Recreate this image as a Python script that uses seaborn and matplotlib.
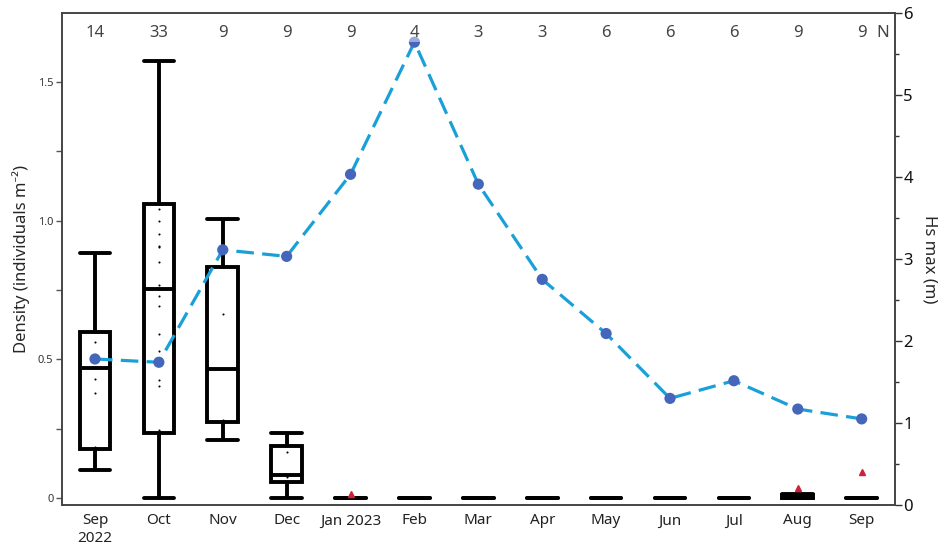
import numpy as np
import pandas as pd
import matplotlib
matplotlib.use('Agg')
import matplotlib.pyplot as plt
import matplotlib.transforms as mtransforms
from matplotlib.ticker import FixedLocator, MultipleLocator, FuncFormatter
import seaborn as sns

# Months sampled (Sep 2022 - Sep 2023)
months = ['Sep\n2022', 'Oct', 'Nov', 'Dec', 'Jan 2023', 'Feb', 'Mar',
          'Apr', 'May', 'Jun', 'Jul', 'Aug', 'Sep']
n_counts = [14, 33, 9, 9, 9, 4, 3, 3, 6, 6, 6, 9, 9]

dens_sep22 = [0.10, 0.12, 0.15, 0.175, 0.183, 0.378, 0.428, 0.51, 0.561,
              0.60, 0.60, 0.70, 0.80, 0.885]
dens_oct = [0, 0, 0, 0.02, 0.05, 0.10, 0.15, 0.20, 0.235, 0.245, 0.403,
            0.424, 0.530, 0.592, 0.693, 0.728, 0.755, 0.769, 0.85, 0.904,
            0.91, 0.952, 1.0, 1.042, 1.06, 1.10, 1.15, 1.22, 1.30, 1.38,
            1.45, 1.52, 1.575]
dens_nov = [0.21, 0.265, 0.274, 0.28, 0.464, 0.664, 0.834, 0.895, 1.005]
dens_dec = [0, 0.03, 0.059, 0.077, 0.083, 0.167, 0.188, 0.21, 0.233]
dens_jan = [0, 0, 0, 0, 0, 0, 0, 0, 0.013]
dens_feb = [0, 0, 0, 0]
dens_mar = [0, 0, 0]
dens_apr = [0, 0, 0]
dens_may = [0, 0, 0, 0, 0, 0]
dens_jun = [0, 0, 0, 0, 0, 0]
dens_jul = [0, 0, 0, 0, 0, 0]
dens_aug = [0, 0, 0, 0, 0, 0, 0.01, 0.015, 0.036]
dens_sep23 = [0, 0, 0, 0, 0, 0, 0, 0, 0.092]

# Maximum significant wave height per month (m)
hs_max = [1.78, 1.74, 3.11, 3.03, 4.03, 5.64, 3.91, 2.75, 2.09, 1.30,
          1.515, 1.17, 1.05]

all_dens = [dens_sep22, dens_oct, dens_nov, dens_dec, dens_jan, dens_feb,
            dens_mar, dens_apr, dens_may, dens_jun, dens_jul, dens_aug,
            dens_sep23]
df = pd.DataFrame({
    'month': np.repeat(months, [len(d) for d in all_dens]),
    'density': np.concatenate(all_dens),
})

sns.set_theme(style='white')
plt.rcParams['font.family'] = ['Noto Sans', 'DejaVu Sans']

fig, ax = plt.subplots(figsize=(9.5, 5.49), dpi=100)
fig.subplots_adjust(left=0.065, right=0.942, top=0.977, bottom=0.080)

box_w = 0.48
red = '#d3203a'
sns.boxplot(data=df, x='month', y='density', order=months, width=box_w,
            color='white', linecolor='black', linewidth=2.8, saturation=1,
            flierprops=dict(marker='^', markerfacecolor=red,
                            markeredgecolor=red, markersize=4, zorder=7),
            ax=ax)

# caps as wide as the boxes
for c in ax.containers:
    if hasattr(c, 'caps'):
        for cap in c.caps:
            xd = cap.get_xdata()
            mid = np.mean(xd)
            cap.set_xdata([mid - box_w / 2, mid + box_w / 2])

sns.stripplot(data=df, x='month', y='density', order=months, jitter=False,
              size=1.5, color='black', linewidth=0, ax=ax, zorder=5)

ax.set_xlim(-0.52, 12.52)
ax.set_ylim(-0.026, 1.751)
ax.set_xlabel('')
ax.set_ylabel('Density (individuals m⁻²)', fontsize=12, labelpad=6)
ax.yaxis.set_major_locator(FixedLocator(np.arange(0, 1.51, 0.25)))


def dens_fmt(v, pos):
    if abs(v) < 1e-9:
        return '0'
    if abs(v * 2 - round(v * 2)) < 1e-6:
        return f'{v:.1f}'
    return ''


ax.yaxis.set_major_formatter(FuncFormatter(dens_fmt))
ax.tick_params(axis='y', direction='out', length=4, width=1, color='#555',
               labelsize=8, labelcolor='#333', pad=2, left=True)
ax.tick_params(axis='x', length=0, labelsize=11, labelcolor='#222', pad=6)

# Hs max on the secondary axis
ax2 = ax.twinx()
pos = np.arange(len(months))
sns.lineplot(x=pos, y=hs_max, ax=ax2, color='#1aa0d9', linewidth=2.3,
             linestyle=(0, (5.5, 2.6)), zorder=3)
sns.scatterplot(x=pos, y=hs_max, ax=ax2, color='#4466bb', s=65,
                edgecolor='none', zorder=4)
ax2.set_ylim(0, 6)
ax2.yaxis.set_major_locator(MultipleLocator(1))
ax2.yaxis.set_minor_locator(MultipleLocator(0.5))
ax2.tick_params(axis='y', which='major', direction='out', length=5, width=1,
                color='#333', labelsize=12, labelcolor='#111', pad=1, right=True)
ax2.tick_params(axis='y', which='minor', direction='out', length=3, width=1,
                color='#333', right=True)
ax2.set_ylabel('Hs max (m)', fontsize=12, rotation=270, labelpad=18)
ax2.set_xlim(-0.52, 12.52)

# sample sizes along the top
trans = mtransforms.blended_transform_factory(ax2.transData, ax2.transAxes)
for i, n in enumerate(n_counts):
    ax2.text(i, 0.959, str(n), transform=trans, ha='center', va='center',
             fontsize=12, color='#444', zorder=6,
             bbox=dict(facecolor='white', edgecolor='none', alpha=0.45, pad=1))
ax2.text(12.33, 0.959, 'N', transform=trans, ha='center', va='center',
         fontsize=12, color='#444')

for a in (ax, ax2):
    for s in a.spines.values():
        s.set_visible(True)
        s.set_color('#444')
        s.set_linewidth(1.2)

fig.savefig('out.png', dpi=100)
